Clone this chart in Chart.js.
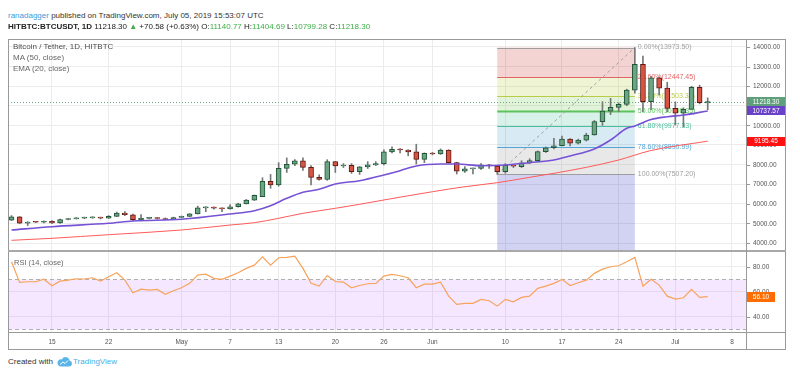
<!DOCTYPE html>
<html>
<head>
<meta charset="utf-8">
<script src="https://cdn.jsdelivr.net/npm/chart.js@4.4.1/dist/chart.umd.min.js"></script>
<style>
  html, body { margin: 0; padding: 0; background: #fff; }
  #wrap { position: relative; width: 800px; height: 376px; overflow: hidden;
          font-family: 'Liberation Sans', Arial, sans-serif; }
  .abs { position: absolute; white-space: nowrap; z-index: 2; }
  canvas { position: absolute; left: 0; z-index: 1; }
  .g { color: #3fae49; }
</style>
</head>
<body>
<div id="wrap">
  <div class="abs" style="left:8px;top:12px;font-size:8px;line-height:8px;color:#333">
    <span style="color:#3a9bdc">ranadagger</span> published on TradingView.com, July 05, 2019 15:53:07 UTC
  </div>
  <div class="abs" style="left:8px;top:23px;font-size:8px;line-height:8px;color:#222">
    <b>HITBTC:BTCUSDT, 1D</b> 11218.30 <span class="g">▲</span> +70.58 (+0.63%) O:<span class="g">11140.77</span> H:<span class="g">11404.69</span> L:<span class="g">10799.28</span> C:<span class="g">11218.30</span>
  </div>

  <canvas id="mainChart" width="800" height="211" style="top:39px"></canvas>
  <canvas id="rsiChart" width="800" height="98" style="top:252px"></canvas>

  <!-- 프레임 -->
  <div class="abs" style="left:8px;top:39px;width:778px;height:311px;border:1px solid #999;box-sizing:border-box"></div>
  <div class="abs" style="left:8px;top:250px;width:778px;height:2px;background:#a8a8a8"></div>
  <div class="abs" style="left:746px;top:39px;width:1px;height:311px;background:#999"></div>
  <div class="abs" style="left:8px;top:332px;width:778px;height:1px;background:#999"></div>

  <div class="abs" style="left:13px;top:43px;font-size:8px;line-height:8px;color:#4d4d4d">Bitcoin / Tether, 1D, HITBTC</div>
  <div class="abs" style="left:13px;top:54px;font-size:8px;line-height:8px;color:#666">MA (50, close)</div>
  <div class="abs" style="left:13px;top:65px;font-size:8px;line-height:8px;color:#666">EMA (20, close)</div>
  <div class="abs" style="left:14px;top:259px;font-size:7.5px;line-height:8px;color:#666">RSI (14, close)</div>

  <div class="abs" style="left:8px;top:358px;font-size:8px;line-height:8px;color:#333">Created with</div>
  <svg class="abs" style="left:57px;top:357px" width="15" height="10" viewBox="0 0 30 20">
    <path d="M7 19 h17 a6 6 0 0 0 1-11.9 a8 8 0 0 0-15.2-2.2 a6 6 0 0 0-2.8 14.1z" fill="#5ab4e6"/>
    <path d="M6 15 l6-5 4 3 6-6" stroke="#fff" stroke-width="2" fill="none"/>
  </svg>
  <div class="abs" style="left:73px;top:358px;font-size:8px;line-height:8px;color:#48aee6">TradingView</div>
</div>

<script>
'use strict';

const FONT = "'Liberation Sans', Arial, sans-serif";
Chart.defaults.font.family = FONT;

// 일봉 2019-04-10 ~ 2019-07-05, x = 4/15 기준 일수
const firstDay = -5;
const opens = [
  5170, 5340, 5010, 5070, 5060, 5110, 5020, 5200, 5230, 5270, 5280, 5310, 5270, 5360, 5530, 5440, 5190, 5260, 5270, 5250, 5200,
  5300, 5360, 5490, 5790, 5810, 5780, 5740, 5850, 6000, 6190, 6360, 7150, 6960, 7810, 8020, 8190, 7860, 7350, 7240, 8150, 7930, 7960, 7640, 7880, 7990, 8050, 8650, 8780, 8745, 8650, 8270,
  8580, 8540, 8745, 8100, 7670, 7780, 7800, 7990, 7930, 7640, 7960, 7900, 8090, 8200, 8660, 8860, 8960, 9300, 9090, 9250, 9510, 10190, 10730, 10920, 11070, 11800, 13120, 11210, 12430, 11900,
  10870, 10620, 10820, 11940, 11140.77,
];
const closes = [
  5340, 5010, 5070, 5060, 5110, 5020, 5200, 5230, 5270, 5280, 5310, 5270, 5360, 5530, 5440, 5190, 5260, 5270, 5250, 5200, 5300,
  5360, 5490, 5790, 5810, 5780, 5740, 5850, 6000, 6190, 6430, 7150, 6960, 7810, 8020, 8190, 7860, 7350, 7240, 8150, 7930, 7960, 7640, 7880, 7990, 8050, 8650, 8780, 8745, 8650, 8270, 8580,
  8540, 8745, 8100, 7670, 7780, 7800, 7990, 7930, 7640, 7960, 7920, 8090, 8200, 8660, 8860, 8960, 9300, 9090, 9250, 9510, 10190, 10730, 10920, 11070, 11800, 13120, 11210, 12430, 11900, 10870,
  10620, 10820, 11940, 11160, 11218.30,
];
const highs = [
  5400, 5350, 5090, 5100, 5130, 5150, 5220, 5260, 5300, 5320, 5340, 5320, 5400, 5580, 5600, 5470, 5450, 5300, 5300, 5280, 5320,
  5380, 5500, 5880, 5850, 5850, 5800, 5960, 6030, 6220, 6450, 7330, 7500, 8100, 8340, 8250, 8350, 7950, 7480, 8250, 8160, 8050, 8050, 7900, 8150, 8150, 8750, 8910, 8820, 8760, 9040, 8600,
  8620, 8800, 8760, 8120, 7900, 7820, 8050, 8020, 7950, 8050, 8000, 8200, 8300, 8700, 8900, 9340, 9450, 9330, 9300, 9600, 10250, 11210, 11380, 11150, 11850, 13973.5, 13540, 12500, 12450, 12200,
  11200, 10900, 12000, 12050, 11404.69,
];
const lows = [
  5150, 4980, 4890, 5040, 5030, 4990, 5000, 5180, 5220, 5240, 5260, 5230, 5250, 5350, 5400, 5140, 5130, 5230, 5220, 5180, 5190,
  5290, 5350, 5480, 5600, 5730, 5600, 5730, 5830, 5990, 6170, 6360, 6790, 6900, 7600, 7950, 7700, 6960, 7200, 7200, 7600, 7850, 7550, 7500, 7800, 7950, 7980, 8600, 8600, 8450, 8030, 8100,
  8500, 8520, 8080, 7520, 7600, 7520, 7760, 7800, 7507.2, 7560, 7850, 7850, 8050, 8150, 8620, 8800, 8950, 8950, 9050, 9200, 9500, 10000, 10550, 10700, 11000, 11650, 10700, 10800, 11550, 10700,
  10020, 9930, 10820, 11100, 10799.28,
];
const rsiValues = [
  84, 67.5, 68, 68, 70, 64.8, 68.5, 69.3, 70.4, 70.2, 71.2, 68.5, 72, 75.2, 69.3, 59.2, 62.1, 61.3, 61.9, 57.9, 60.8,
  63.2, 66.7, 73.3, 74.1, 70.7, 69.9, 72.5, 75.2, 78.7, 81.3, 88, 81.3, 87.2, 87.5, 88.5, 78.7, 66.7, 64.5, 73, 68.2, 67.7, 63.2, 65, 66.4, 66.7, 72.5, 73.9, 72.8, 71.2, 63.2, 66.1,
  66.1, 67.7, 56.5, 49.9, 50.7, 50.7, 53.9, 52.8, 48.5, 53.9, 52, 55.5, 56.5, 62.7, 64.5, 66.7, 69.9, 65, 67.2, 69.3, 74.7, 78.1, 80, 80.8, 84, 87.5, 64.5, 69.9, 65.3, 56.5,
  54.1, 55.2, 61.9, 55.5, 56.1,
];

// 이동평균 (그림에서 읽은 지점)
const emaDays = [-5, 0, 7, 10, 16, 22, 25, 27, 29, 31, 33, 35, 38, 41, 43, 45, 48, 50, 53, 56, 59, 62, 64, 67, 69, 71, 72, 74, 76, 78, 81];
const emaValues = [4663, 4832, 5005, 5122, 5209, 5480, 5650, 5903, 6280, 6587, 6740, 7010, 7180, 7470, 7690, 7930, 8030, 8030, 7945, 7980, 8097, 8235, 8440, 8800, 9255, 9853, 9970, 10300, 10443, 10530, 10737.57];
const maDays = [-5, 0, 7, 16, 22, 25, 28, 31, 35, 38, 43, 47, 51, 55, 59, 62, 66, 70, 74, 81];
const maValues = [4137, 4240, 4424, 4663, 4918, 5036, 5260, 5515, 5770, 5975, 6340, 6617, 6872, 7077, 7350, 7556, 7860, 8235, 8720, 9195.45];

const tickDays = [0, 7, 16, 22, 28, 35, 41, 47, 56, 63, 70, 77, 84];
const tickLabels = ['15', '22', 'May', '7', '13', '20', '26', 'Jun', '10', '17', '24', 'Jul', '8'];
const priceTicks = [4000, 5000, 6000, 7000, 8000, 9000, 10000, 11000, 12000, 13000, 14000];
const rsiTicks = [40, 60, 80];

// 피보나치 되돌림 (6/9 저점 -> 6/26 고점)
const fibStartDay = 55;
const fibEndDay = 72;
const fibRatios = [0, 0.236, 0.382, 0.5, 0.618, 0.786, 1, 1.618];
const fibPrices = [13973.50, 12447.45, 11503.37, 10740.35, 9977.33, 8890.99, 7507.20, 3511.03];

const lastClose = 11218.30;
const lastEma = 10737.57;
const lastMa = 9195.45;
const lastRsi = 56.10;

const GRID = '#ececec';
const AXIS_TEXT = '#555';
const AXIS_FONT = '6.5px ' + FONT;

const fibLine = ['#9e9e9e', '#e06666', '#b9cc48', '#5cc35c', '#4cbf9c', '#55a5d6', '#9e9e9e', '#6e6ee0'];
const fibFill = [
  'rgba(200,40,30,0.2)', 'rgba(170,200,40,0.2)', 'rgba(105,200,65,0.2)', 'rgba(65,190,145,0.2)',
  'rgba(60,150,200,0.2)', 'rgba(140,140,140,0.2)', 'rgba(30,30,195,0.2)',
];

function xScale(extra) {
  return Object.assign({
    type: 'linear',
    min: -5.435,
    max: 85.73,
    offset: false,
    afterBuildTicks: s => { s.ticks = tickDays.map(v => ({ value: v })); },
    grid: { color: GRID, drawTicks: false, offset: false },
    border: { display: false },
  }, extra);
}

function drawBadge(ctx, x, yc, w, h, bg, text) {
  ctx.fillStyle = bg;
  ctx.fillRect(x, Math.round(yc - h / 2), w, h);
  ctx.fillStyle = '#fff';
  ctx.textAlign = 'center';
  ctx.textBaseline = 'middle';
  ctx.fillText(text, x + w / 2, yc + 0.5);
}

const fibPlugin = {
  id: 'fib',
  beforeDatasetsDraw(chart) {
    const { ctx, chartArea: a, scales: { x, y } } = chart;
    const x0 = x.getPixelForValue(fibStartDay);
    const x1 = x.getPixelForValue(fibEndDay);
    ctx.save();
    ctx.beginPath();
    ctx.rect(a.left, a.top, a.width, a.height);
    ctx.clip();

    for (let i = 0; i < fibPrices.length - 1; i++) {
      const ya = y.getPixelForValue(fibPrices[i]);
      const yb = y.getPixelForValue(fibPrices[i + 1]);
      ctx.fillStyle = fibFill[i];
      ctx.fillRect(x0, ya, x1 - x0, yb - ya);
    }
    fibPrices.forEach((p, i) => {
      const yy = Math.round(y.getPixelForValue(p)) + 0.5;
      ctx.strokeStyle = fibLine[i];
      ctx.lineWidth = i === 3 ? 2 : 1;
      ctx.beginPath();
      ctx.moveTo(x0, yy);
      ctx.lineTo(x1, yy);
      ctx.stroke();
    });

    // 추세선 (점선)
    ctx.setLineDash([3, 3]);
    ctx.strokeStyle = '#a0a0a0';
    ctx.lineWidth = 1;
    ctx.beginPath();
    ctx.moveTo(x0, y.getPixelForValue(fibPrices[6]));
    ctx.lineTo(x1, y.getPixelForValue(fibPrices[0]));
    ctx.stroke();

    // 현재가 점선
    ctx.setLineDash([1, 2]);
    ctx.strokeStyle = '#6ba583';
    const yc = Math.round(y.getPixelForValue(lastClose)) + 0.5;
    ctx.beginPath();
    ctx.moveTo(a.left, yc);
    ctx.lineTo(a.right, yc);
    ctx.stroke();
    ctx.setLineDash([]);

    ctx.font = '7px ' + FONT;
    ctx.textBaseline = 'middle';
    ctx.textAlign = 'left';
    fibPrices.forEach((p, i) => {
      ctx.fillStyle = fibLine[i];
      const label = (fibRatios[i] * 100).toFixed(2) + '%(' + p.toFixed(2) + ')';
      ctx.fillText(label, x1 + 3, y.getPixelForValue(p));
    });
    ctx.restore();
  },
};

const priceAxisPlugin = {
  id: 'priceAxis',
  afterDraw(chart) {
    const { ctx, chartArea: a, scales: { y } } = chart;
    ctx.save();
    ctx.font = AXIS_FONT;
    ctx.textBaseline = 'middle';
    ctx.textAlign = 'left';
    priceTicks.forEach(v => {
      const yy = y.getPixelForValue(v);
      ctx.fillStyle = '#999';
      ctx.fillRect(a.right + 1, Math.round(yy), 3, 1);
      ctx.fillStyle = AXIS_TEXT;
      ctx.fillText(v.toFixed(2), a.right + 7, yy + 0.5);
    });
    drawBadge(ctx, a.right + 1, y.getPixelForValue(lastClose), 38, 9, '#5f9f7b', lastClose.toFixed(2));
    drawBadge(ctx, a.right + 1, y.getPixelForValue(lastEma), 38, 9, '#6a42c8', lastEma.toFixed(2));
    drawBadge(ctx, a.right + 1, y.getPixelForValue(lastMa), 38, 9, '#ff1111', lastMa.toFixed(2));
    ctx.restore();
  },
};

const days = opens.map((_, i) => firstDay + i);
const bodyColors = opens.map((o, i) => closes[i] >= o ? '#6ba583' : '#d75442');
const bodyBorders = opens.map((o, i) => closes[i] >= o ? '#225437' : '#5b1a13');

new Chart(document.getElementById('mainChart'), {
  type: 'bar',
  plugins: [fibPlugin, priceAxisPlugin],
  data: {
    datasets: [
      {
        type: 'line',
        label: 'EMA 20',
        data: emaDays.map((d, i) => ({ x: d, y: emaValues[i] })),
        borderColor: '#7652d4',
        borderWidth: 1.6,
        pointRadius: 0,
        cubicInterpolationMode: 'monotone',
        order: 0,
      },
      {
        type: 'line',
        label: 'MA 50',
        data: maDays.map((d, i) => ({ x: d, y: maValues[i] })),
        borderColor: '#ff5a5a',
        borderWidth: 1,
        pointRadius: 0,
        cubicInterpolationMode: 'monotone',
        order: 0,
      },
      {
        label: 'body',
        data: days.map((d, i) => ({ x: d, y: [opens[i], closes[i]] })),
        backgroundColor: bodyColors,
        borderColor: bodyBorders,
        borderWidth: 1,
        borderSkipped: false,
        barThickness: 5,
        minBarLength: 1,
        grouped: false,
        order: 1,
      },
      {
        label: 'wick',
        data: days.map((d, i) => ({ x: d, y: [lows[i], highs[i]] })),
        backgroundColor: '#777',
        barThickness: 1,
        grouped: false,
        order: 2,
      },
    ],
  },
  options: {
    responsive: false,
    animation: false,
    events: [],
    layout: { padding: { left: 8, right: 0, top: 0, bottom: 0 } },
    plugins: { legend: { display: false }, tooltip: { enabled: false } },
    scales: {
      x: xScale({ ticks: { display: false }, afterFit: s => { s.height = 0; } }),
      y: {
        type: 'linear',
        position: 'right',
        min: 3643,
        max: 14408,
        beginAtZero: false,
        afterBuildTicks: s => { s.ticks = priceTicks.map(v => ({ value: v })); },
        ticks: { display: false },
        grid: { color: GRID, drawTicks: false },
        border: { display: false },
        afterFit: s => { s.width = 54; },
      },
    },
  },
});

// RSI 패널
const rsiPlugin = {
  id: 'rsiBand',
  beforeDatasetsDraw(chart) {
    const { ctx, chartArea: a, scales: { y } } = chart;
    const y70 = Math.round(y.getPixelForValue(70)) + 0.5;
    const y30 = Math.round(y.getPixelForValue(30)) + 0.5;
    ctx.save();
    ctx.fillStyle = 'rgba(153,21,255,0.1)';
    ctx.fillRect(a.left, y70, a.width, y30 - y70);
    ctx.strokeStyle = '#b0b0b0';
    ctx.lineWidth = 1;
    ctx.setLineDash([4, 3]);
    [y70, y30].forEach(yy => {
      ctx.beginPath();
      ctx.moveTo(a.left, yy);
      ctx.lineTo(a.right, yy);
      ctx.stroke();
    });
    ctx.restore();
  },
  afterDraw(chart) {
    const { ctx, chartArea: a, scales: { y } } = chart;
    ctx.save();
    ctx.font = AXIS_FONT;
    ctx.textBaseline = 'middle';
    ctx.textAlign = 'left';
    rsiTicks.forEach(v => {
      const yy = y.getPixelForValue(v);
      ctx.fillStyle = '#999';
      ctx.fillRect(a.right + 1, Math.round(yy), 3, 1);
      ctx.fillStyle = AXIS_TEXT;
      ctx.fillText(v.toFixed(2), a.right + 7, yy + 0.5);
    });
    drawBadge(ctx, a.right + 1, y.getPixelForValue(lastRsi), 28, 10, '#ff6d00', lastRsi.toFixed(2));
    ctx.restore();
  },
};

new Chart(document.getElementById('rsiChart'), {
  type: 'line',
  plugins: [rsiPlugin],
  data: {
    datasets: [{
      label: 'RSI',
      data: rsiValues.map((v, i) => ({ x: firstDay + i, y: v })),
      borderColor: '#f7a35c',
      borderWidth: 1.2,
      pointRadius: 0,
      tension: 0,
    }],
  },
  options: {
    responsive: false,
    animation: false,
    events: [],
    layout: { padding: { left: 8, right: 0, top: 0, bottom: 0 } },
    plugins: { legend: { display: false }, tooltip: { enabled: false } },
    scales: {
      x: xScale({
        ticks: {
          autoSkip: false,
          maxRotation: 0,
          padding: 6,
          color: AXIS_TEXT,
          font: { size: 6.5 },
          callback: (v, i) => tickLabels[i],
        },
        afterFit: s => { s.height = 18; },
      }),
      y: {
        type: 'linear',
        position: 'right',
        min: 27.8,
        max: 91.8,
        afterBuildTicks: s => { s.ticks = rsiTicks.map(v => ({ value: v })); },
        ticks: { display: false },
        grid: { color: GRID, drawTicks: false },
        border: { display: false },
        afterFit: s => { s.width = 54; },
      },
    },
  },
});
</script>
</body>
</html>
